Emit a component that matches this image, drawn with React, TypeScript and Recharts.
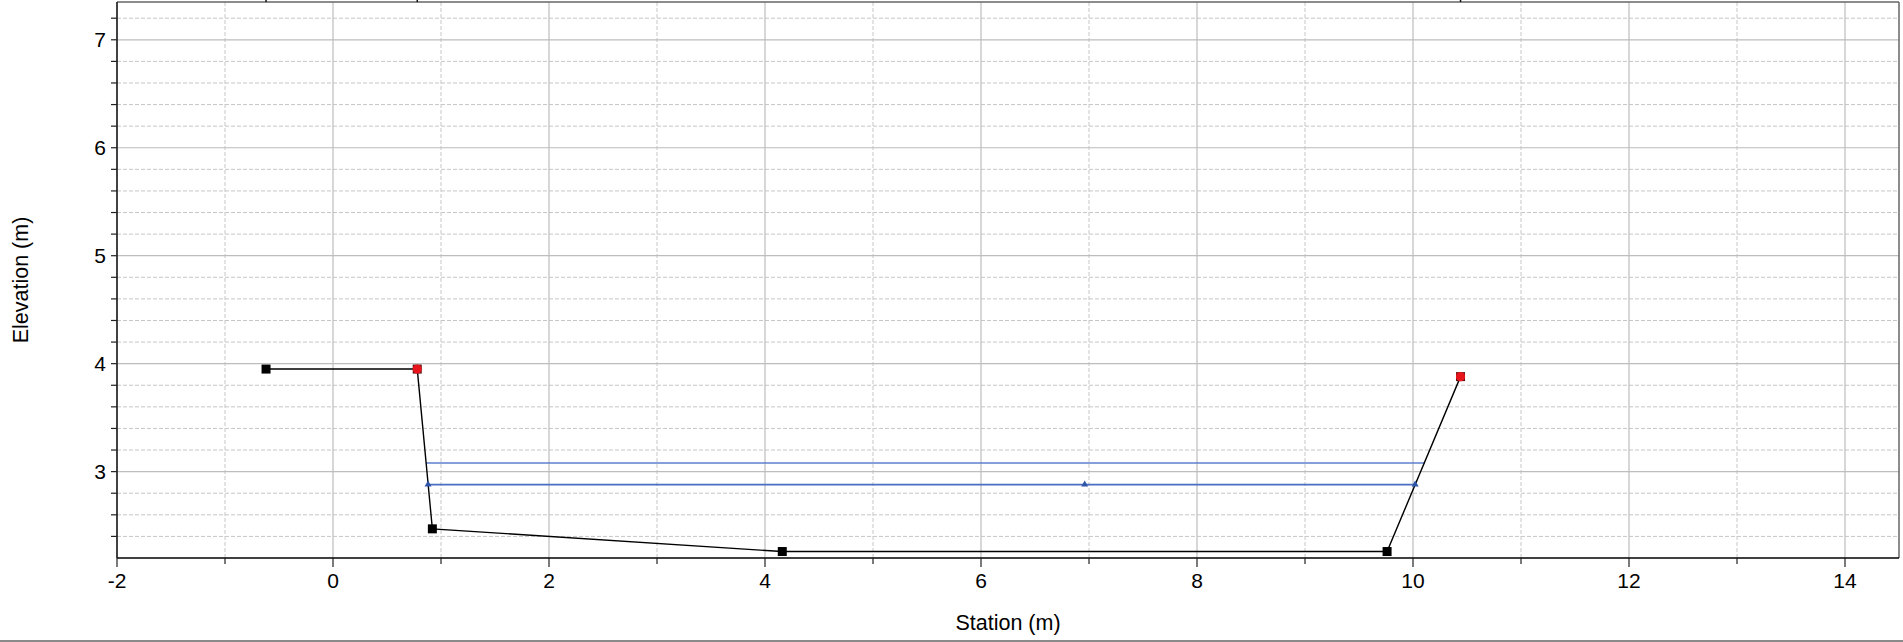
import React from 'react';
import { ComposedChart, Line, XAxis, YAxis, ReferenceLine, Label } from 'recharts';

// Ground profile
const groundStations = [-0.62, 0.78, 0.92, 4.16, 9.76, 10.44];
const groundElevations = [3.95, 3.95, 2.47, 2.26, 2.26, 3.88];
const bankFlags = [false, true, false, false, false, true];

// Water surface (with triangle markers)
const wsStations = [0.88, 6.96, 10.02];
const wsElevations = [2.88, 2.88, 2.88];

// Upper water line
const upperStations = [0.86, 10.11];
const upperElevations = [3.08, 3.08];

// Axes / grid
const xTicks = [-2, -1, 0, 1, 2, 3, 4, 5, 6, 7, 8, 9, 10, 11, 12, 13, 14];
const xMajor = [-2, 0, 2, 4, 6, 8, 10, 12, 14];
const xMinor = [-1, 1, 3, 5, 7, 9, 11, 13];
const yTicks = [2.4, 2.6, 2.8, 3, 3.2, 3.4, 3.6, 3.8, 4, 4.2, 4.4, 4.6, 4.8, 5, 5.2, 5.4, 5.6, 5.8, 6, 6.2, 6.4, 6.6, 6.8, 7, 7.2];
const yMajor = [3, 4, 5, 6, 7];
const yMinor = [2.4, 2.6, 2.8, 3.2, 3.4, 3.6, 3.8, 4.2, 4.4, 4.6, 4.8, 5.2, 5.4, 5.6, 5.8, 6.2, 6.4, 6.6, 6.8, 7.2];
const topMarks = [-0.62, 0.78, 10.44];
const xDomain: [number, number] = [-2, 14.5];
const yDomain: [number, number] = [2.2, 7.35];

const groundData = groundStations.map((s, i) => ({ x: s, y: groundElevations[i], bank: bankFlags[i] }));
const wsData = wsStations.map((s, i) => ({ x: s, y: wsElevations[i] }));
const upperData = upperStations.map((s, i) => ({ x: s, y: upperElevations[i] }));

const FONT = '"Liberation Sans", Arial, Helvetica, sans-serif';
const TICK_FS = 21;
const TITLE_FS = 21.5;

const GroundDot = (props: any) => {
  const { cx, cy, payload, index } = props;
  if (cx == null || cy == null) return <g key={index} />;
  return (
    <g key={index}>
      <rect x={cx - 4.5} y={cy - 4.5} width={9} height={9} fill={payload.bank ? '#5a1010' : '#000'} />
      {payload.bank && <circle cx={cx} cy={cy} r={4.6} fill="#e8141c" />}
    </g>
  );
};

const TriDot = (props: any) => {
  const { cx, cy, index } = props;
  if (cx == null || cy == null) return <g key={index} />;
  return <path key={index} d={`M${cx - 3.5},${cy + 2} L${cx + 3.5},${cy + 2} L${cx},${cy - 4} Z`} fill="#2f55a8" />;
};

const XTick = (props: any) => {
  const { x, y, payload } = props;
  const v = payload.value;
  const major = Math.abs(v % 2) < 1e-9;
  return (
    <g>
      <line x1={x} y1={y} x2={x} y2={y + (major ? 9 : 6)} stroke="#222" strokeWidth={1.2} />
      {major && (
        <text x={x} y={y + 15} dy="0.71em" textAnchor="middle" fill="#000" fontSize={TICK_FS} fontFamily={FONT}>
          {v}
        </text>
      )}
    </g>
  );
};

export default function App() {
  return (
    <div style={{ position: 'absolute', left: 0, top: 0, width: 1903, height: 642, background: '#fff' }}>
      <ComposedChart
        width={1903}
        height={642}
        margin={{ top: 0, right: 4, bottom: 0, left: 0 }}
        style={{ fontFamily: FONT }}
      >
        <XAxis
          xAxisId="top"
          orientation="top"
          type="number"
          dataKey="x"
          domain={xDomain}
          allowDataOverflow
          ticks={topMarks}
          height={2}
          tickSize={2}
          tickMargin={0}
          tickFormatter={() => ''}
          axisLine={{ stroke: '#666', strokeWidth: 1.5 }}
          tickLine={{ stroke: '#111', strokeWidth: 1.5 }}
        />
        <XAxis
          type="number"
          dataKey="x"
          domain={xDomain}
          allowDataOverflow
          ticks={xTicks}
          interval={0}
          height={84}
          tickSize={0}
          tickMargin={0}
          tickLine={false}
          tick={<XTick />}
          axisLine={{ stroke: '#000', strokeWidth: 1.5 }}
        >
          <Label value="Station (m)" position="insideBottom" offset={12} fill="#000" fontSize={TITLE_FS} fontFamily={FONT} />
        </XAxis>
        <YAxis
          type="number"
          domain={yDomain}
          allowDataOverflow
          ticks={yTicks}
          interval={0}
          width={117}
          tickSize={6}
          tickMargin={5}
          tickFormatter={(v: number) => (Math.abs(v - Math.round(v)) < 1e-9 ? String(Math.round(v)) : '')}
          tick={{ fill: '#000', fontSize: TICK_FS, fontFamily: FONT }}
          tickLine={{ stroke: '#222', strokeWidth: 1.2 }}
          axisLine={{ stroke: '#111', strokeWidth: 1.5 }}
        >
          <Label
            value="Elevation (m)"
            angle={-90}
            position="insideLeft"
            offset={20}
            fill="#000"
            fontSize={TITLE_FS}
            fontFamily={FONT}
            style={{ textAnchor: 'middle' }}
          />
        </YAxis>

        {xMinor.map((v) => (
          <ReferenceLine key={'xm' + v} x={v} stroke="#c6c6c6" strokeDasharray="4 2" strokeWidth={1} />
        ))}
        {yMinor.map((v) => (
          <ReferenceLine key={'ym' + v} y={v} stroke="#c6c6c6" strokeDasharray="4 2" strokeWidth={1} />
        ))}
        {xMajor.map((v) => (
          <ReferenceLine key={'xM' + v} x={v} stroke="#bdbdbd" strokeWidth={1.2} />
        ))}
        {yMajor.map((v) => (
          <ReferenceLine key={'yM' + v} y={v} stroke="#bdbdbd" strokeWidth={1.2} />
        ))}
        <ReferenceLine x={xDomain[1]} stroke="#666" strokeWidth={1.5} />

        <Line
          data={upperData}
          dataKey="y"
          type="linear"
          stroke="#5b7fcc"
          strokeWidth={1.6}
          dot={false}
          activeDot={false}
          isAnimationActive={false}
        />
        <Line
          data={wsData}
          dataKey="y"
          type="linear"
          stroke="#4a6fc2"
          strokeWidth={1.8}
          dot={<TriDot />}
          activeDot={false}
          isAnimationActive={false}
        />
        <Line
          data={groundData}
          dataKey="y"
          type="linear"
          stroke="#000"
          strokeWidth={1.4}
          dot={<GroundDot />}
          activeDot={false}
          isAnimationActive={false}
        />
      </ComposedChart>
      <div style={{ position: 'absolute', left: 0, top: 640, width: 1903, height: 2, background: '#8a8a8a' }} />
    </div>
  );
}
